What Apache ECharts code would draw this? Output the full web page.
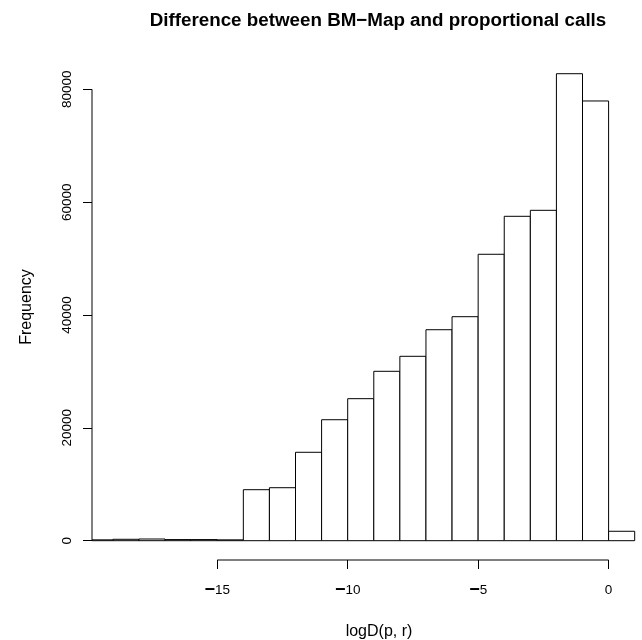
<!DOCTYPE html>
<html>
<head>
<meta charset="utf-8">
<script src="https://cdn.jsdelivr.net/npm/echarts@6/dist/echarts.min.js"></script>
<style>
  html, body { margin: 0; padding: 0; background: #fff; }
  #chart { width: 642px; height: 640px; }
</style>
</head>
<body>
<div id="chart"></div>
<script>
  // histogram bins (width 1) and counts
  const breaks = [-20, -19, -18, -17, -16, -15, -14, -13, -12, -11, -10,
                  -9, -8, -7, -6, -5, -4, -3, -2, -1, 0, 1];
  const counts = [150, 250, 300, 200, 200, 150, 9040, 9390, 15670, 21440, 25170,
                  30020, 32680, 37390, 39700, 50760, 57490, 58550, 82760, 77930, 1670];
  const xTicks = [-15, -10, -5, 0];
  const yTicks = [0, 20000, 40000, 60000, 80000];

  // plot region as R extends it
  const xMin = -19.8, xMax = 1.28;
  const yMin = -3420, yMax = 86254;

  const font = 'Liberation Sans, Arial, sans-serif';
  const bins = counts.map((c, i) => [breaks[i], breaks[i + 1], c]);

  let chart = echarts.init(document.getElementById('chart'));

  const option = {
    animation: false,
    backgroundColor: '#fff',
    title: [
      {
        text: 'Difference between BM\u2212Map and proportional calls',
        left: 373, top: 6, textAlign: 'center',
        textStyle: { fontFamily: font, fontSize: 18.8, fontWeight: 'bold', color: '#000' }
      },
      {
        text: 'logD(p, r)',
        left: 374, top: 619, textAlign: 'center',
        textStyle: { fontFamily: font, fontSize: 16, fontWeight: 'normal', color: '#000' }
      }
    ],
    grid: { left: 92, right: 0, top: 54, bottom: 80 },
    xAxis: {
      type: 'value', min: xMin, max: xMax,
      splitLine: { show: false },
      axisLine: { show: false, onZero: false },
      axisTick: { show: true, customValues: xTicks, length: 9, lineStyle: { color: '#000' } },
      axisLabel: {
        customValues: xTicks, margin: 20, color: '#000', fontFamily: font, fontSize: 13.5,
        formatter: v => v < 0 ? '{m|\u2212}{d|' + String(-v) + '}' : '{d|' + String(v) + '}',
        rich: {
          m: { fontFamily: font, fontSize: 18, color: '#000', fontWeight: 'bold', lineHeight: 20 },
          d: { fontFamily: font, fontSize: 13.5, color: '#000', lineHeight: 20 }
        }
      }
    },
    yAxis: {
      type: 'value', min: yMin, max: yMax,
      name: 'Frequency', nameLocation: 'middle', nameGap: 57,
      nameTextStyle: { fontFamily: font, fontSize: 16, color: '#000' },
      splitLine: { show: false },
      axisLine: { show: false, onZero: false },
      axisTick: { show: true, customValues: yTicks, length: 9, lineStyle: { color: '#000' } },
      axisLabel: {
        customValues: yTicks, margin: 18, rotate: 90, color: '#000', fontFamily: font, fontSize: 13.5,
        formatter: v => String(v)
      }
    },
    series: [
      {
        type: 'custom',
        clip: true,
        data: bins,
        encode: { x: [0, 1], y: 2 },
        renderItem: function (params, api) {
          const p0 = api.coord([api.value(0), api.value(2)]);
          const p1 = api.coord([api.value(1), 0]);
          return {
            type: 'rect',
            shape: { x: p0[0], y: p0[1], width: p1[0] - p0[0], height: p1[1] - p0[1] },
            style: { fill: '#fff', stroke: '#000', lineWidth: 1 }
          };
        }
      },
      {
        // axis lines only span first to last tick, like R
        type: 'custom',
        clip: false,
        silent: true,
        data: [[0]],
        renderItem: function (params, api) {
          const xa = api.coord([xTicks[0], yMin]);
          const xb = api.coord([xTicks[xTicks.length - 1], yMin]);
          const ya = api.coord([xMin, yTicks[0]]);
          const yb = api.coord([xMin, yTicks[yTicks.length - 1]]);
          const st = { stroke: '#000', lineWidth: 1 };
          return {
            type: 'group',
            children: [
              { type: 'line', shape: { x1: xa[0], y1: xa[1], x2: xb[0], y2: xb[1] }, style: st },
              { type: 'line', shape: { x1: ya[0], y1: ya[1], x2: yb[0], y2: yb[1] }, style: st }
            ]
          };
        }
      }
    ]
  };

  chart.setOption(option);

  window.addEventListener('resize', function () {
    chart.resize();
  });
</script>
</body>
</html>
